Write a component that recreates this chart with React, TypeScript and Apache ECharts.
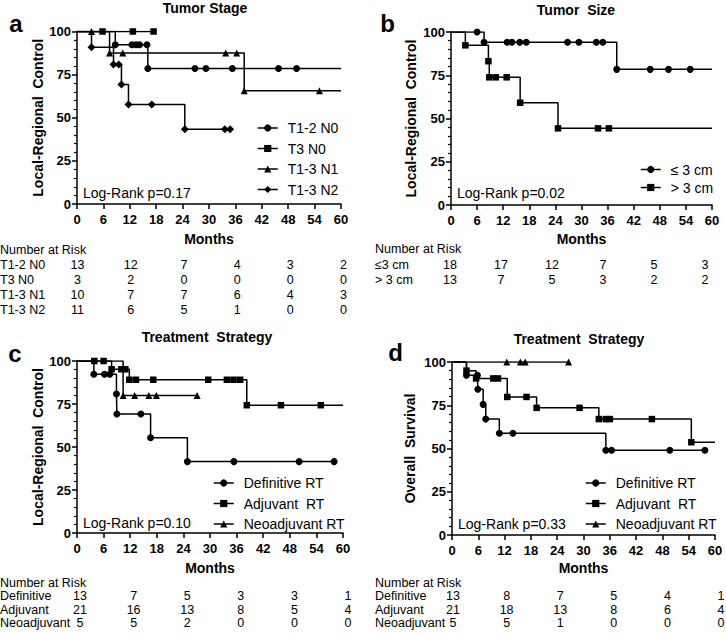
import React, { useEffect, useRef } from 'react';
import * as echarts from 'echarts';

const FONT = '"Liberation Sans", Arial, Helvetica, sans-serif';

// ---------- texts ----------
const panelTitles = ['Tumor Stage', 'Tumor  Size', 'Treatment  Strategy', 'Treatment  Strategy'];
const panelLetters = ['a', 'b', 'c', 'd'];
const yAxisNames = ['Local-Regional  Control', 'Local-Regional  Control', 'Local-Regional  Control', 'Overall  Survival'];
const xAxisName = 'Months';
const pValueTexts = ['Log-Rank p=0.17', 'Log-Rank p=0.02', 'Log-Rank p=0.10', 'Log-Rank p=0.33'];

// ---------- panel a: Tumor Stage ----------
const namesA = ['T1-2 N0', 'T3 N0', 'T1-3 N1', 'T1-3 N2'];
const aT12N0 = [[0, 100], [8.7, 92.3], [12.5, 92.3], [13.4, 92.3], [14.2, 92.3], [15.9, 92.3], [16.1, 78.5], [26.8, 78.5], [29.3, 78.5], [35.3, 78.5], [45.8, 78.5], [49.9, 78.5]];
const aT3N0 = [[0, 100], [5.8, 100], [12.7, 100], [17.4, 100]];
const aT13N1 = [[0, 100], [3.3, 100], [7.4, 87.5], [10.4, 87.5], [33.8, 87.5], [36.3, 87.5], [38.0, 65.6], [55.1, 65.6]];
const aT13N2 = [[0, 100], [3.3, 90.9], [8.3, 80.8], [9.5, 80.8], [10.1, 69.3], [11.7, 57.7], [17.0, 57.7], [24.5, 43.3], [33.6, 43.3], [34.8, 43.3]];
const endsA = [60, null, 60, null];

// ---------- panel b: Tumor Size ----------
const namesB = ['≤ 3 cm', '> 3 cm'];
const bSmall = [[0, 100], [6.0, 100], [7.6, 94.1], [12.9, 94.1], [14.0, 94.1], [15.8, 94.1], [17.3, 94.1], [26.8, 94.1], [29.4, 94.1], [33.4, 94.1], [34.9, 94.1], [38.1, 78.4], [45.8, 78.4], [50.0, 78.4], [55.0, 78.4]];
const bLarge = [[0, 100], [3.3, 92.3], [8.6, 83.1], [8.8, 73.8], [10.3, 73.8], [12.8, 73.8], [15.9, 59.1], [24.6, 44.3], [33.8, 44.3], [36.3, 44.3]];
const endsB = [60, 60];

// ---------- panel c: Treatment Strategy, local-regional control ----------
const namesCD = ['Definitive RT', 'Adjuvant  RT', 'Neoadjuvant RT'];
const cDef = [[0, 100], [3.8, 92.3], [6.2, 92.3], [7.4, 92.3], [8.9, 80.8], [9.0, 69.2], [14.4, 69.2], [16.6, 55.4], [24.9, 41.5], [35.4, 41.5], [50.1, 41.5], [58.0, 41.5]];
const cAdj = [[0, 100], [3.9, 100], [6.0, 100], [7.8, 95.2], [10.0, 95.2], [10.9, 95.2], [11.8, 89.1], [13.3, 89.1], [17.2, 89.1], [29.6, 89.1], [33.8, 89.1], [35.3, 89.1], [36.8, 89.1], [38.3, 74.3], [46.0, 74.3], [55.0, 74.3]];
const cNeo = [[0, 100], [10.4, 80], [13.0, 80], [16.2, 80], [17.9, 80], [27.1, 80]];
const endsC = [null, 60, null];

// ---------- panel d: Treatment Strategy, overall survival ----------
const dDef = [[0, 100], [3.3, 92.3], [5.8, 92.3], [5.9, 84.2], [7.1, 75.5], [7.7, 67.0], [10.8, 58.8], [13.9, 58.8], [35.1, 49.0], [36.4, 49.0], [49.7, 49.0], [57.7, 49.0]];
const dAdj = [[0, 100], [3.3, 95.0], [5.5, 90.5], [9.4, 90.5], [10.5, 90.5], [12.6, 79.8], [17.0, 79.8], [19.3, 73.5], [29.1, 73.5], [33.5, 67.0], [35.1, 67.0], [36.0, 67.0], [45.6, 67.0], [54.6, 53.6]];
const dNeo = [[0, 100], [12.5, 100], [15.6, 100], [16.7, 100], [26.6, 100]];
const endsD = [null, 60, null];

// ---------- numbers at risk ----------
const riskHeader = 'Number at Risk';
const riskLabelsA = ['T1-2 N0', 'T3 N0', 'T1-3 N1', 'T1-3 N2'];
const riskA = [[13, 12, 7, 4, 3, 2], [3, 2, 0, 0, 0, 0], [10, 7, 7, 6, 4, 3], [11, 6, 5, 1, 0, 0]];
const riskLabelsB = ['≤3 cm', '> 3 cm'];
const riskB = [[18, 17, 12, 7, 5, 3], [13, 7, 5, 3, 2, 2]];
const riskLabelsC = ['Definitive', 'Adjuvant', 'Neoadjuvant'];
const riskC = [[13, 7, 5, 3, 3, 1], [21, 16, 13, 8, 5, 4], [5, 5, 2, 0, 0, 0]];
const riskLabelsD = ['Definitive', 'Adjuvant', 'Neoadjuvant'];
const riskD = [[13, 8, 7, 5, 4, 1], [21, 18, 13, 8, 6, 4], [5, 5, 1, 0, 0, 0]];

// ---------- layout (pixels) ----------
const grids = [
  { left: 77, top: 31.5, width: 264, height: 172.5 },
  { left: 451, top: 32, width: 261, height: 173 },
  { left: 77, top: 361, width: 266, height: 172 },
  { left: 452, top: 362, width: 263, height: 173 },
];
const yNameGaps = [32.5, 33.5, 32.5, 35.5];
const xNameGaps = [28, 26.5, 28, 26];
const titlePos = [[205, 8], [576, 10], [207, 337], [579, 339]];
const letterPos = [[16, 35], [387.5, 35], [15, 365], [395.5, 364]];
const pPos = [[83, 192.5], [457, 192.5], [83, 523], [458, 524]];
const legendPos = [
  { left: 257, top: 121, gap: 6.5 },
  { left: 640, top: 162.5, gap: 4 },
  { left: 213, top: 476, gap: 6.5 },
  { left: 585, top: 476, gap: 6.5 },
];
const riskLayout = [
  { labelX: 0, headerY: 250, rowY0: 265, rowDy: 15, colX0: 77.5, colDx: 53.2 },
  { labelX: 375, headerY: 249, rowY0: 265, rowDy: 15, colX0: 450, colDx: 51 },
  { labelX: 0, headerY: 582.5, rowY0: 596, rowDy: 13.6, colX0: 80, colDx: 53.6 },
  { labelX: 375, headerY: 582.5, rowY0: 596, rowDy: 13.6, colX0: 453, colDx: 53.6 },
];
const riskFontSize = 12.5;

const symA = ['circle', 'rect', 'triangle', 'diamond'];
const symB = ['circle', 'rect'];
const symCD = ['circle', 'rect', 'triangle'];
const symSize: Record<string, number> = { circle: 7, rect: 6.5, triangle: 7, diamond: 8 };

function mkSeries(name: string, pts: number[][], endT: number | null, symbol: string, gi: number) {
  const data: any[] = pts.map((p, i) => (i === 0 ? { value: p, symbol: 'none' } : { value: p }));
  if (endT != null) data.push({ value: [endT, pts[pts.length - 1][1]], symbol: 'none' });
  return {
    type: 'line',
    name,
    xAxisIndex: gi,
    yAxisIndex: gi,
    step: 'end',
    data,
    symbol,
    symbolSize: symSize[symbol],
    showSymbol: true,
    showAllSymbol: true,
    lineStyle: { color: '#000', width: 1.5 },
    itemStyle: { color: '#000', borderWidth: 0 },
    emphasis: { disabled: true },
    silent: true,
    z: 3,
  };
}

export default function App() {
  const ref = useRef<HTMLDivElement>(null);
  useEffect(() => {
    if (!ref.current) return;
    const chart = echarts.init(ref.current, undefined, { renderer: 'svg' });

    const xAxes = grids.map((_, i) => ({
      type: 'value',
      gridIndex: i,
      min: 0,
      max: 60,
      interval: 6,
      name: xAxisName,
      nameLocation: 'middle',
      nameGap: xNameGaps[i],
      nameTextStyle: { fontFamily: FONT, fontWeight: 'bold', fontSize: 14, color: '#000' },
      axisLine: { show: true, onZero: false, lineStyle: { color: '#000', width: 1.5 } },
      axisTick: { show: true, length: 5, lineStyle: { color: '#000', width: 1.5 } },
      axisLabel: { margin: 9, fontFamily: FONT, fontWeight: 'bold', fontSize: 13, color: '#000' },
      splitLine: { show: false },
    }));
    const yAxes = grids.map((_, i) => ({
      type: 'value',
      gridIndex: i,
      min: 0,
      max: 100,
      interval: 25,
      name: yAxisNames[i],
      nameLocation: 'middle',
      nameGap: yNameGaps[i],
      nameTextStyle: { fontFamily: FONT, fontWeight: 'bold', fontSize: 14, color: '#000' },
      axisLine: { show: true, onZero: false, lineStyle: { color: '#000', width: 1.5 } },
      axisTick: { show: true, length: 5, lineStyle: { color: '#000', width: 1.5 } },
      minorTick: { show: true, splitNumber: 5, length: 3, lineStyle: { color: '#000', width: 1.2 } },
      axisLabel: { margin: 6, fontFamily: FONT, fontWeight: 'bold', fontSize: 13, color: '#000' },
      splitLine: { show: false },
      minorSplitLine: { show: false },
    }));

    const series: any[] = [];
    [aT12N0, aT3N0, aT13N1, aT13N2].forEach((pts, k) => series.push(mkSeries(namesA[k], pts, endsA[k], symA[k], 0)));
    [bSmall, bLarge].forEach((pts, k) => series.push(mkSeries(namesB[k], pts, endsB[k], symB[k], 1)));
    [cDef, cAdj, cNeo].forEach((pts, k) => series.push(mkSeries(namesCD[k], pts, endsC[k], symCD[k], 2)));
    [dDef, dAdj, dNeo].forEach((pts, k) => series.push(mkSeries(namesCD[k], pts, endsD[k], symCD[k], 3)));

    const legendNames = [namesA, namesB, namesCD, namesCD];
    const legends = legendNames.map((names, i) => ({
      orient: 'vertical',
      left: legendPos[i].left,
      top: legendPos[i].top,
      itemWidth: 20,
      itemHeight: 9,
      itemGap: legendPos[i].gap,
      padding: 0,
      selectedMode: false,
      data: names,
      textStyle: { fontFamily: FONT, fontSize: 14, color: '#000', padding: [0, 0, 0, 5] },
      lineStyle: { color: '#000', width: 1.5 },
      itemStyle: { color: '#000' },
    }));

    const graphics: any[] = [];
    const txt = (x: number, y: number, text: string, size: number, weight: string, align: string, valign: string) => ({
      type: 'text',
      x,
      y,
      silent: true,
      style: {
        text,
        fontFamily: FONT,
        fontSize: size,
        fontWeight: weight,
        fill: '#000',
        textAlign: align,
        textVerticalAlign: valign,
      },
    });
    for (let i = 0; i < 4; i++) {
      graphics.push(txt(titlePos[i][0], titlePos[i][1], panelTitles[i], 14, 'bold', 'center', 'middle'));
      graphics.push(txt(letterPos[i][0], letterPos[i][1], panelLetters[i], 24, 'bold', 'center', 'bottom'));
      graphics.push(txt(pPos[i][0], pPos[i][1], pValueTexts[i], 14, 'normal', 'left', 'middle'));
    }
    const riskLabels = [riskLabelsA, riskLabelsB, riskLabelsC, riskLabelsD];
    const riskVals = [riskA, riskB, riskC, riskD];
    for (let i = 0; i < 4; i++) {
      const L = riskLayout[i];
      graphics.push(txt(L.labelX, L.headerY, riskHeader, riskFontSize, 'normal', 'left', 'middle'));
      riskLabels[i].forEach((lab, r) => {
        const y = L.rowY0 + r * L.rowDy;
        graphics.push(txt(L.labelX, y, lab, riskFontSize, 'normal', 'left', 'middle'));
        riskVals[i][r].forEach((v, c) => {
          graphics.push(txt(L.colX0 + c * L.colDx, y, String(v), riskFontSize, 'normal', 'center', 'middle'));
        });
      });
    }

    chart.setOption({
      animation: false,
      backgroundColor: '#fff',
      textStyle: { fontFamily: FONT },
      grid: grids,
      xAxis: xAxes,
      yAxis: yAxes,
      legend: legends,
      series,
      graphic: graphics,
    });
    return () => chart.dispose();
  }, []);

  return <div ref={ref} style={{ position: 'absolute', left: 0, top: 0, width: 726, height: 633, background: '#fff' }} />;
}
